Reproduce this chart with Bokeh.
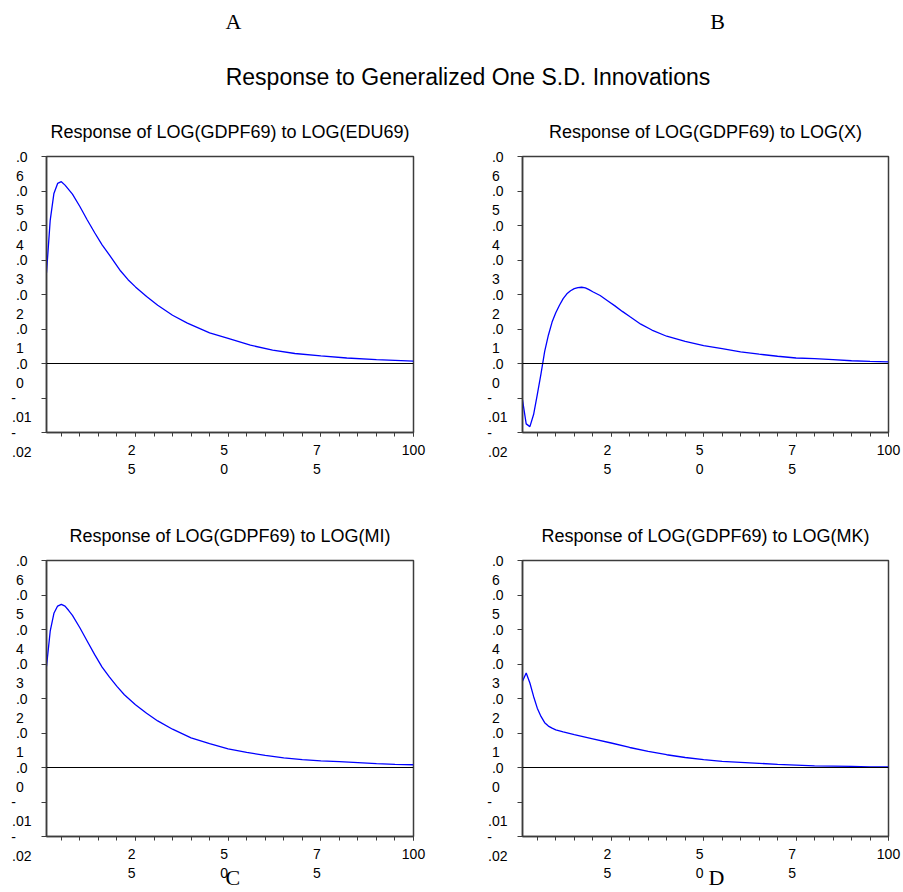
from bokeh.plotting import figure
from bokeh.models import Range1d, FixedTicker, Span, AllLabels
from bokeh.layouts import column, row
from bokeh.embed import file_html
from bokeh.resources import INLINE
from bokeh.core.properties import value

# ---------------- data ----------------
main_title = "Response to Generalized One S.D. Innovations"
top_letters = ["A", "B"]
panel_titles = [
    "Response of LOG(GDPF69) to LOG(EDU69)",
    "Response of LOG(GDPF69) to LOG(X)",
    "Response of LOG(GDPF69) to LOG(MI)",
    "Response of LOG(GDPF69) to LOG(MK)",
]
bottom_letters = ["C", "D"]

x_major = [25, 50, 75, 100]
x_minor = [5, 10, 15, 20, 25, 30, 35, 40, 45, 50, 55, 60, 65, 70, 75, 80, 85, 90, 95, 100]
x_tick_lines = [("2", "5"), ("5", "0"), ("7", "5"), ("100", None)]

y_ticks = [-0.02, -0.01, 0, 0.01, 0.02, 0.03, 0.04, 0.05, 0.06]
# EViews-style wrapped labels: first line sits on the tick, second line below
y_tick_lines = [("-", ".02"), ("-", ".01"), (".0", "0"), (".0", "1"), (".0", "2"),
                (".0", "3"), (".0", "4"), (".0", "5"), (".0", "6")]

periods_edu = [1, 2, 3, 4, 5, 6, 8, 10, 12, 14, 16, 18, 21, 23, 25, 28, 31, 35, 39,
               45, 50, 56, 62, 68, 75, 82, 90, 100]
resp_edu = [0.0263, 0.0415, 0.0493, 0.0522, 0.0527, 0.0517, 0.0491, 0.0455, 0.0416,
            0.0379, 0.0344, 0.0314, 0.0268, 0.0243, 0.0222, 0.0194, 0.0169, 0.0140,
            0.0117, 0.0089, 0.0073, 0.0053, 0.0039, 0.0029, 0.0022, 0.0016, 0.0011, 0.0007]

periods_x = [1, 2, 3, 4, 5, 6, 7, 8, 9, 10, 11, 12, 13, 14, 15, 16, 17, 18, 19, 20,
             22, 24, 26, 28, 30, 33, 36, 40, 45, 50, 55, 60, 65, 70, 75, 80, 85, 90, 95, 100]
resp_x = [-0.0105, -0.0175, -0.0183, -0.0148, -0.0090, -0.0030, 0.0035, 0.0082, 0.0120,
          0.0147, 0.0169, 0.0188, 0.0202, 0.0211, 0.0217, 0.0220, 0.0221, 0.0219, 0.0214,
          0.0208, 0.0197, 0.0182, 0.0167, 0.0151, 0.0136, 0.0114, 0.0097, 0.0079, 0.0064,
          0.0052, 0.0043, 0.0034, 0.0027, 0.0021, 0.0016, 0.0014, 0.0011, 0.0008, 0.0006, 0.0005]

periods_mi = [1, 2, 3, 4, 5, 6, 7, 8, 10, 12, 14, 16, 18, 20, 22, 25, 28, 31, 35, 40,
              45, 50, 55, 60, 65, 70, 75, 80, 85, 90, 95, 100]
resp_mi = [0.0293, 0.0395, 0.0447, 0.0468, 0.0473, 0.0468, 0.0455, 0.0441, 0.0405,
           0.0366, 0.0327, 0.0291, 0.0262, 0.0235, 0.0211, 0.0182, 0.0157, 0.0135,
           0.0111, 0.0086, 0.0069, 0.0054, 0.0044, 0.0035, 0.0028, 0.0023, 0.0019,
           0.0017, 0.0014, 0.0011, 0.0009, 0.0008]

periods_mk = [1, 2, 3, 4, 5, 6, 7, 8, 9, 10, 12, 15, 20, 25, 30, 35, 40, 45, 50, 55,
              60, 65, 70, 75, 80, 85, 90, 95, 100]
resp_mk = [0.0250, 0.0274, 0.0245, 0.0206, 0.0172, 0.0148, 0.0130, 0.0120, 0.0114,
           0.0109, 0.0103, 0.0095, 0.0083, 0.0071, 0.0058, 0.0047, 0.0037, 0.0029,
           0.0023, 0.0018, 0.0015, 0.0012, 0.0009, 0.0007, 0.0005, 0.0004, 0.0003,
           0.0002, 0.0002]

# ---------------- styling ----------------
SANS = "Liberation Sans"
SERIF = "Liberation Serif"
FRAME = "#3c3c3c"
NBSP = "\u00a0"


def wrap_ylabel(first, second):
    # pad with non-breaking spaces so the lines read left-aligned like EViews
    if first == "-":
        return " \n-" + NBSP * 4 + "\n" + second
    return " \n" + first + NBSP + "\n" + second + NBSP * 2


def wrap_xlabel(first, second):
    if second is None:
        return first
    return first + NBSP * 2 + "\n" + second + NBSP * 2


y_tick_labels = [wrap_ylabel(a, b) for a, b in y_tick_lines]
x_tick_labels = [wrap_xlabel(a, b) for a, b in x_tick_lines]


def make_panel(periods, resp, title, width, height, bl, br, bt, bb, letter=None, pad=0):
    p = figure(width=width, height=height,
               x_range=Range1d(1, 100), y_range=Range1d(-0.02, 0.06),
               min_border_left=bl, min_border_right=br,
               min_border_top=bt, min_border_bottom=bb,
               toolbar_location=None, output_backend="svg")
    p.grid.visible = False
    p.outline_line_color = FRAME
    p.outline_line_width = 1.5
    p.background_fill_color = "white"
    p.border_fill_color = "white"

    p.title.text = title
    p.title.align = "center"
    p.title.text_font = SANS
    p.title.text_font_size = "18px"
    p.title.text_font_style = "normal"
    p.title.text_color = "black"
    p.title.standoff = 29

    xa = p.xaxis[0]
    xa.ticker = FixedTicker(ticks=x_major, minor_ticks=x_minor)
    xa.major_label_overrides = dict(zip(x_major, x_tick_labels))
    xa.major_label_policy = AllLabels()
    xa.axis_line_color = FRAME
    xa.axis_line_width = 1.5
    xa.major_tick_line_color = FRAME
    xa.minor_tick_line_color = FRAME
    xa.major_tick_in = 0
    xa.major_tick_out = 4
    xa.minor_tick_in = 0
    xa.minor_tick_out = 4
    xa.major_label_standoff = 5
    xa.major_label_text_font = SANS
    xa.major_label_text_font_size = "14px"
    xa.major_label_text_color = "black"
    if letter is not None:
        xa.axis_label = NBSP * pad + letter
        xa.axis_label_text_font = SERIF
        xa.axis_label_text_font_size = "22px"
        xa.axis_label_text_font_style = "normal"
        xa.axis_label_text_color = "black"
        xa.axis_label_standoff = -19

    ya = p.yaxis[0]
    ya.ticker = FixedTicker(ticks=y_ticks, minor_ticks=[])
    ya.major_label_overrides = dict(zip(y_ticks, y_tick_labels))
    ya.major_label_policy = AllLabels()
    ya.axis_line_color = FRAME
    ya.axis_line_width = 1.5
    ya.major_tick_line_color = FRAME
    ya.minor_tick_line_color = None
    ya.major_tick_in = 0
    ya.major_tick_out = 5
    ya.major_label_standoff = 10
    ya.major_label_text_font = SANS
    ya.major_label_text_font_size = "14px"
    ya.major_label_text_color = "black"

    p.add_layout(Span(location=0, dimension="width", line_color="black", line_width=1))
    p.line(periods, resp, line_color="#0000FF", line_width=1.3)
    return p


# header with panel letters and main title
header = figure(width=903, height=100, x_range=Range1d(0, 903), y_range=Range1d(0, 100),
                min_border=0, toolbar_location=None, output_backend="svg",
                x_axis_type=None, y_axis_type=None)
header.title.visible = False
header.grid.visible = False
header.outline_line_color = None
header.text(x=[233, 717], y=[79, 79], text=top_letters,
            text_font=value(SERIF), text_font_size="22px", text_align="center",
            text_baseline="alphabetic", text_color="black")
header.text(x=[467.5], y=[24], text=[main_title],
            text_font=value(SANS), text_font_size="23px", text_align="center",
            text_baseline="alphabetic", text_color="black")

pA = make_panel(periods_edu, resp_edu, panel_titles[0], 473, 400, 46, 60, 56, 68)
pB = make_panel(periods_x, resp_x, panel_titles[1], 430, 400, 49, 15, 56, 68)
pC = make_panel(periods_mi, resp_mi, panel_titles[2], 473, 392, 46, 60, 60, 56,
                bottom_letters[0], 1)
pD = make_panel(periods_mk, resp_mk, panel_titles[3], 430, 392, 49, 15, 60, 56,
                bottom_letters[1], 4)

layout = column(header, row(pA, pB, spacing=0), row(pC, pD, spacing=0), spacing=0)

open("out.html", "w").write(file_html(layout, INLINE))
